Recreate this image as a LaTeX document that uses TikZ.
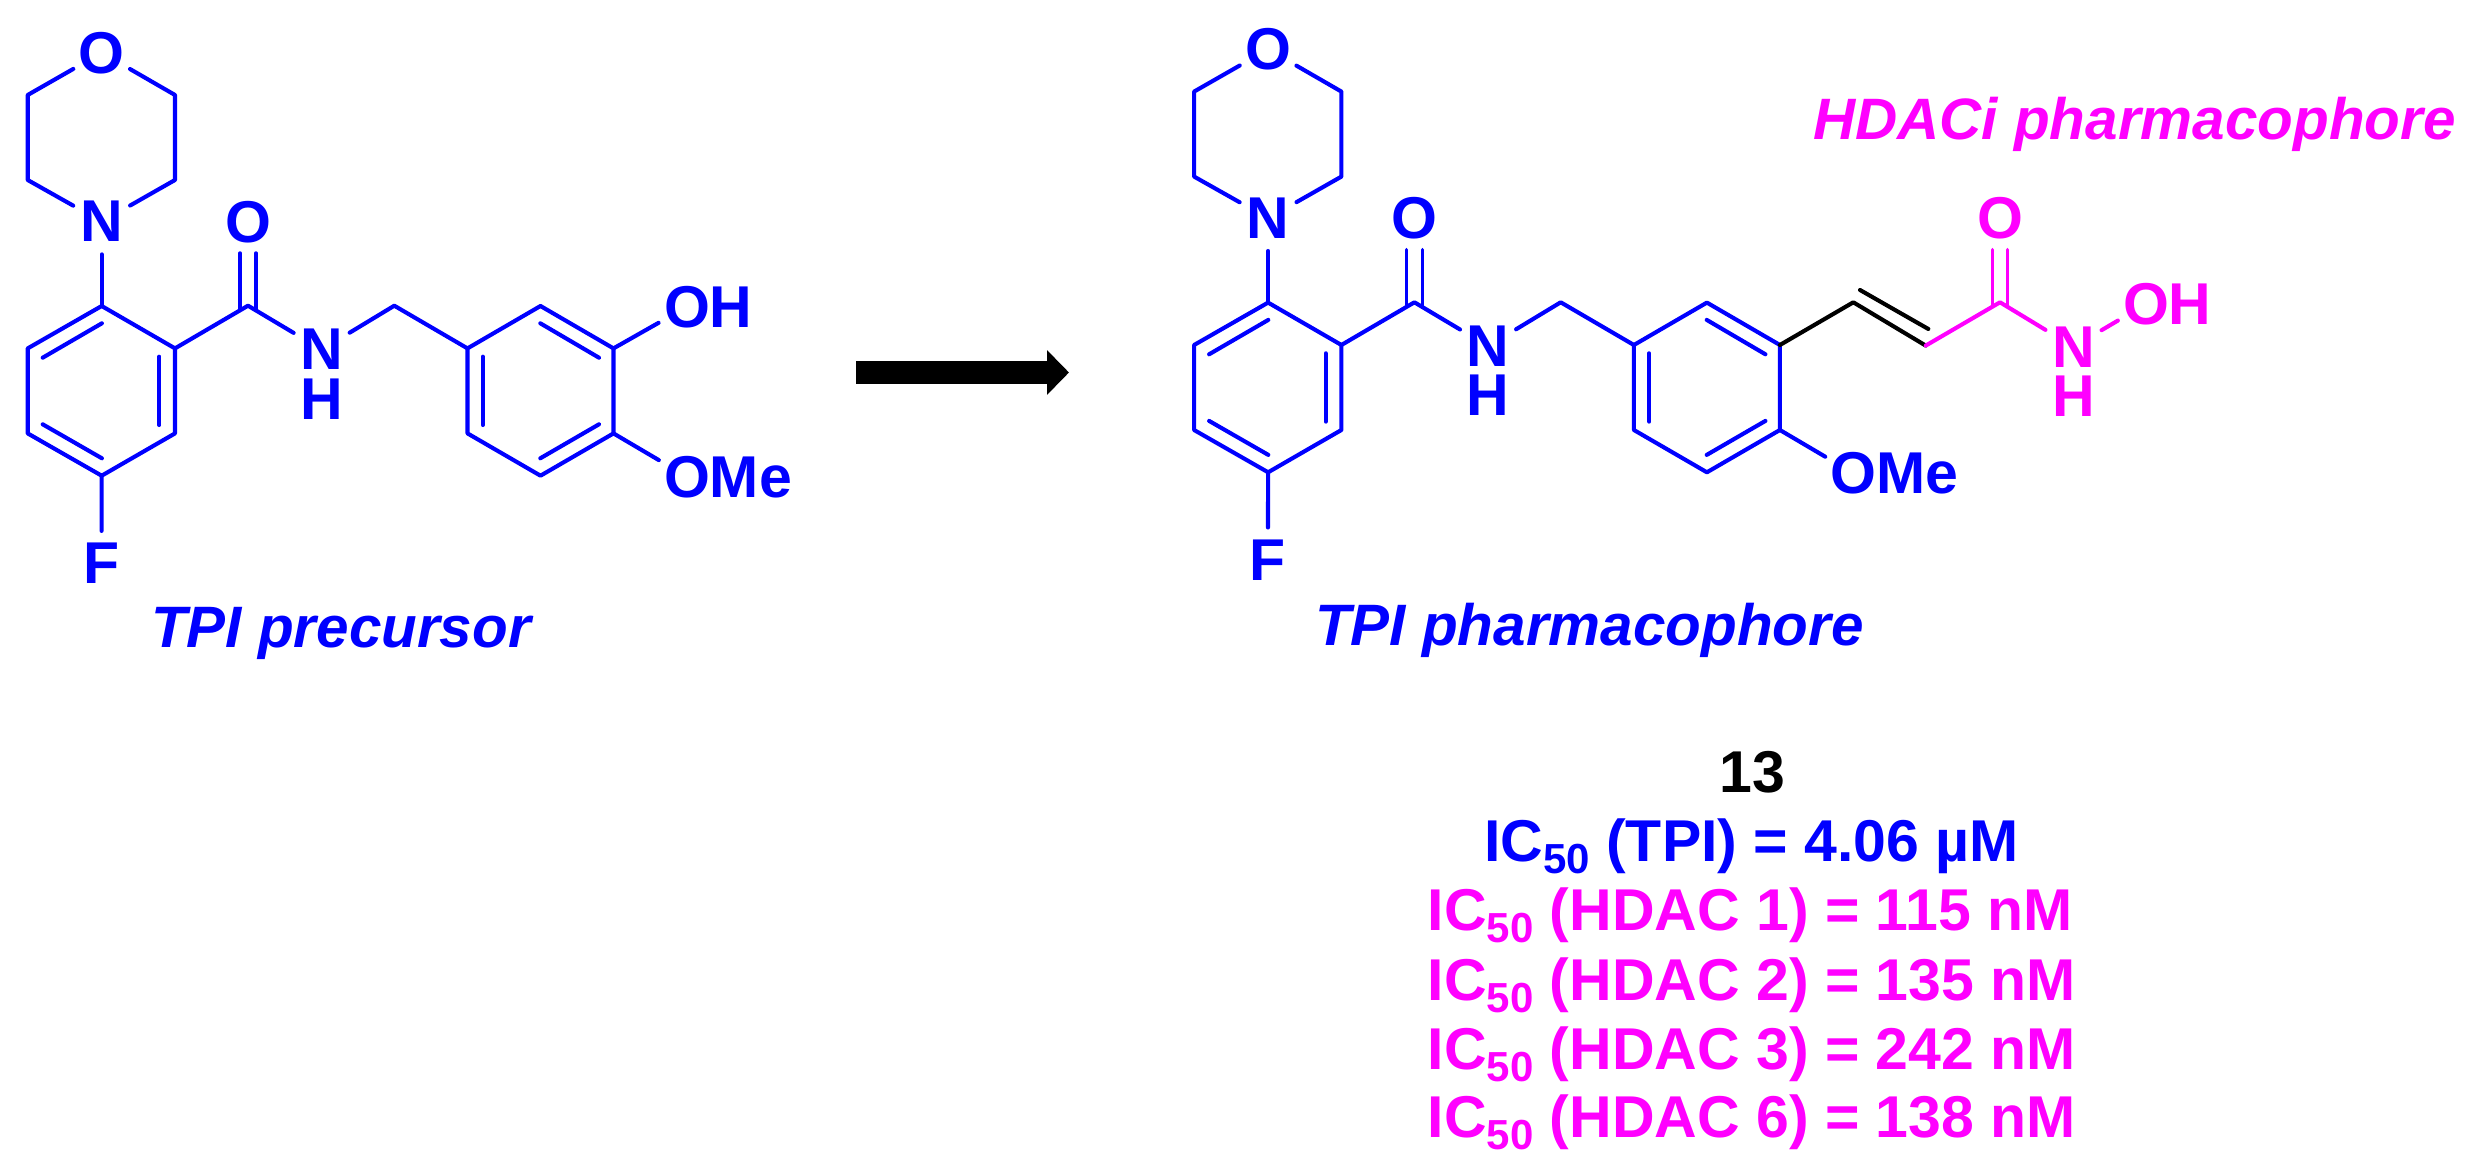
\documentclass[tikz,border=0pt]{standalone}
\usepackage{fontspec}
\setmainfont{Liberation Sans}
\usetikzlibrary{arrows.meta}
\definecolor{tblue}{RGB}{0,0,255}
\definecolor{tmag}{RGB}{255,0,255}
\newcommand{\lblfont}{\fontsize{59}{59}\selectfont\bfseries}
\newcommand{\capfont}{\fontsize{58.4}{59}\selectfont\bfseries\itshape}
\newcommand{\subf}[1]{\raisebox{-12pt}{\fontsize{42}{42}\selectfont #1}}
\newcommand{\NHstack}{N\llap{\smash{\raisebox{-49.2pt}{H}}}}
\tikzset{
  atom/.style={circle,inner sep=0pt,minimum size=65pt,font=\lblfont,text=tblue},
  atommag/.style={atom,text=tmag},
  bond/.style={draw=tblue,line width=4.1pt,line cap=round,line join=round},
  thinbond/.style={bond,line width=3.4pt},
  bondmag/.style={bond,draw=tmag},
  thinmag/.style={thinbond,draw=tmag},
  bondblk/.style={bond,draw=black},
  lbl/.style={anchor=base,inner sep=0pt,font=\lblfont},
  caplbl/.style={anchor=base west,inner sep=0pt,font=\capfont},
  heavyarrow/.style={draw=black,line width=23pt,-{Triangle[length=22pt,width=43.5pt]}}
}
\newcommand{\molcore}{%
  % atoms
  \node[atom] (Om) at (101.7,52.7) {O};
  \node[atom] (Nm) at (101.7,221.7) {N};
  \node[atom] (F) at (101.5,563.6) {F};
  \node[atom] (Oc) at (248,222) {O};
  \node[atom] (Na) at (321.7,349.6) {\NHstack};
  \node[atom] (OMe) at (687,476.7) {O\rlap{Me}};
  % morpholine carbons
  \coordinate (m1) at (27.7,95);
  \coordinate (m2) at (175,95);
  \coordinate (m3) at (27.7,180);
  \coordinate (m4) at (175,180);
  % fluoro ring
  \coordinate (a1) at (101.7,306);
  \coordinate (a2) at (175,348.4);
  \coordinate (a3) at (175,433.4);
  \coordinate (a4) at (101.7,475.7);
  \coordinate (a5) at (27.7,433.4);
  \coordinate (a6) at (27.7,348.4);
  \coordinate (ai1) at (42.7,357.7);
  \coordinate (ai2) at (101.9,323.3);
  \coordinate (ai3) at (159.3,356.7);
  \coordinate (ai4) at (159.3,425);
  \coordinate (ai5) at (42.7,424.3);
  \coordinate (ai6) at (101.9,458.3);
  % amide
  \coordinate (cc) at (248,305.7);
  \coordinate (cl) at (240.1,309);
  \coordinate (cr) at (255.9,309);
  \coordinate (ol) at (240.1,253);
  \coordinate (or) at (255.9,253);
  \coordinate (ch) at (394.3,305.7);
  % aryl ring
  \coordinate (b1) at (467.5,348.4);
  \coordinate (b2) at (540.5,306);
  \coordinate (b3) at (613.5,348.4);
  \coordinate (b4) at (613.5,433.4);
  \coordinate (b5) at (540.5,475.7);
  \coordinate (b6) at (467.5,433.4);
  \coordinate (bi1) at (540.3,323.3);
  \coordinate (bi2) at (599,357.7);
  \coordinate (bi3) at (540.3,458.3);
  \coordinate (bi4) at (599,424.3);
  \coordinate (bi5) at (482.8,356.7);
  \coordinate (bi6) at (482.8,425);
  % bonds
  \draw[bond] (Om) -- (m1) -- (m3) -- (Nm) -- (m4) -- (m2) -- (Om);
  \draw[bond] (Nm) -- (a1);
  \draw[bond] (a1) -- (a2) -- (a3) -- (a4) -- (a5) -- (a6) -- cycle;
  \draw[bond] (ai1) -- (ai2);
  \draw[bond] (ai3) -- (ai4);
  \draw[bond] (ai5) -- (ai6);
  \draw[bond] (a4) -- (F);
  \draw[bond] (a2) -- (cc) -- (Na) -- (ch) -- (b1);
  \draw[thinbond] (cl) -- (ol);
  \draw[thinbond] (cr) -- (or);
  \draw[bond] (b1) -- (b2) -- (b3) -- (b4) -- (b5) -- (b6) -- cycle;
  \draw[bond] (bi1) -- (bi2);
  \draw[bond] (bi3) -- (bi4);
  \draw[bond] (bi5) -- (bi6);
  \draw[bond] (b4) -- (OMe);
}
\begin{document}
\begin{tikzpicture}[x=1pt,y=-1pt]
\useasboundingbox (0,0) rectangle (2481,1174);
% left molecule
\begin{scope}[name prefix=L-]
  \molcore
  \node[atom] (OH) at (687,306.7) {O\rlap{H}};
  \draw[bond] (b3) -- (OH);
\end{scope}
\node[caplbl,text=tblue] (tpil) at (151,647) {TPI precursor};
% arrow
\coordinate (aS) at (856,372.5);
\coordinate (aE) at (1069,372.5);
\draw[heavyarrow] (aS) -- (aE);
% right molecule
\begin{scope}[shift={(1166.4,-3.4)},name prefix=R-]
  \molcore
  \coordinate (v1) at (686.9,305.7);
  \coordinate (v2) at (759.3,349);
  \coordinate (vi1) at (693.6,293.4);
  \coordinate (vi2) at (761.9,332.4);
  \coordinate (c3) at (833.6,305.7);
  \coordinate (c3l) at (825.9,309);
  \coordinate (c3r) at (841,309);
  \coordinate (o3l) at (825.9,253);
  \coordinate (o3r) at (841,253);
  \node[atommag] (Oh) at (833.6,222) {O};
  \node[atommag] (Nh) at (907,350.2) {\NHstack};
  \node[atommag] (OHh) at (979.6,307.4) {O\rlap{H}};
  \draw[bondblk] (b3) -- (v1) -- (v2);
  \draw[bondblk] (vi1) -- (vi2);
  \draw[bondmag] (v2) -- (c3) -- (Nh) -- (OHh);
  \draw[thinmag] (c3l) -- (o3l);
  \draw[thinmag] (c3r) -- (o3r);
\end{scope}
\node[caplbl,text=tblue] (tpir) at (1315,645) {TPI pharmacophore};
\node[caplbl,text=tmag] (hdaci) at (1813,139.5) {HDACi pharmacophore};
% data
\node[lbl,text=black] (cmpd) at (1752,792.7) {13};
\node[lbl,anchor=base west,text=tblue] (tpi) at (1484,861.7) {IC\subf{50} (TPI) = 4.06 µM};
\node[lbl,anchor=base west,text=tmag] (h1) at (1427.5,930.7) {IC\subf{50} (HDAC 1) = 115 nM};
\node[lbl,anchor=base west,text=tmag] (h2) at (1427.5,1000) {IC\subf{50} (HDAC 2) = 135 nM};
\node[lbl,anchor=base west,text=tmag] (h3) at (1427.5,1069) {IC\subf{50} (HDAC 3) = 242 nM};
\node[lbl,anchor=base west,text=tmag] (h6) at (1427.5,1137.7) {IC\subf{50} (HDAC 6) = 138 nM};
\end{tikzpicture}
\end{document}
